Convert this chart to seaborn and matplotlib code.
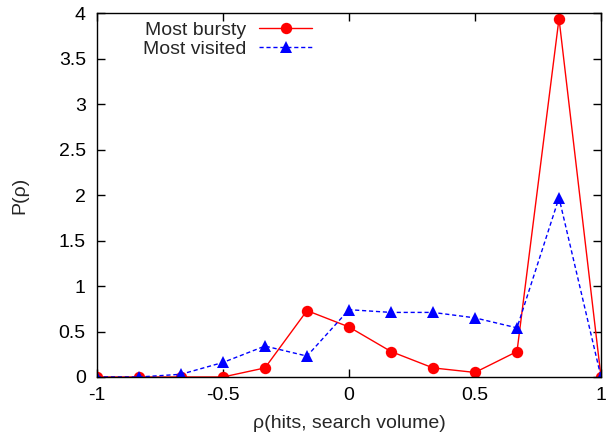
import matplotlib
matplotlib.use("Agg")
import matplotlib.pyplot as plt
import seaborn as sns
import pandas as pd

rho = [-1, -5/6, -4/6, -0.5, -2/6, -1/6, 0, 1/6, 2/6, 0.5, 4/6, 5/6, 1]
p_bursty = [0, 0, 0, 0, 0.10, 0.73, 0.55, 0.28, 0.10, 0.05, 0.28, 3.94, 0]
p_visited = [0, 0, 0.03, 0.16, 0.34, 0.23, 0.74, 0.71, 0.71, 0.65, 0.54, 1.97, 0]

sns.set_style("ticks")
plt.rcParams['font.family'] = ['Liberation Sans', 'DejaVu Sans']

df_b = pd.DataFrame({'rho': rho, 'P': p_bursty})
df_v = pd.DataFrame({'rho': rho, 'P': p_visited})

fig, ax = plt.subplots(figsize=(6.08, 4.37), dpi=100)
sns.lineplot(data=df_b, x='rho', y='P', ax=ax, color='#ff0000', marker='o',
             markersize=8.2, markeredgewidth=0, linewidth=1, label='Most bursty')
sns.lineplot(data=df_v, x='rho', y='P', ax=ax, color='#0000ff', marker='^',
             markersize=8.5, markeredgewidth=0, linewidth=1, linestyle=(0, (3, 2)),
             label='Most visited')

ax.set_xlim(-1, 1)
ax.set_ylim(0, 4)
ax.set_xticks([-1, -0.5, 0, 0.5, 1])
ax.set_xticklabels(['-1', '-0.5', '0', '0.5', '1'])
ax.set_yticks([0, 0.5, 1, 1.5, 2, 2.5, 3, 3.5, 4])
ax.set_yticklabels(['0', '0.5', '1', '1.5', '2', '2.5', '3', '3.5', '4'])
ax.tick_params(direction='in', top=True, right=True, length=6, width=1,
               labelsize=14, colors='black')
ax.tick_params(axis='y', pad=8)
ax.tick_params(axis='x', pad=7)
for s in ax.spines.values():
    s.set_linewidth(1)
    s.set_color('black')
ax.set_xlabel('ρ(hits, search volume)', fontsize=14, labelpad=8)
ax.set_ylabel('P(ρ)', fontsize=14, labelpad=22)

ax.legend(loc='upper right', bbox_to_anchor=(0.4266, 0.978), frameon=False,
          markerfirst=False, fontsize=14, handlelength=2.7, borderaxespad=0,
          borderpad=0, labelspacing=0.1, handletextpad=0.67)

plt.subplots_adjust(left=0.1595, right=0.9885, top=0.970, bottom=0.1373)
plt.savefig('out.png', dpi=100)
